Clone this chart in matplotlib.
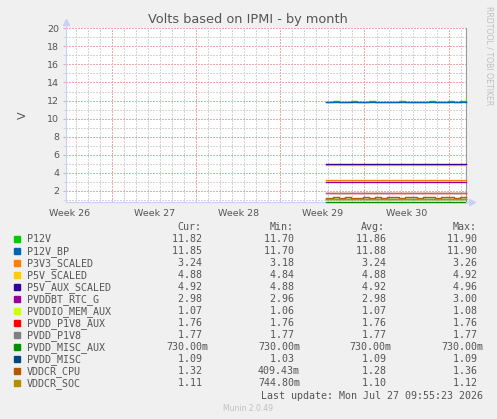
import numpy as np
import matplotlib
matplotlib.use("Agg")
import matplotlib.pyplot as plt

# ---- data -------------------------------------------------------------
names = ['P12V', 'P12V_BP', 'P3V3_SCALED', 'P5V_SCALED', 'P5V_AUX_SCALED',
         'PVDDBT_RTC_G', 'PVDDIO_MEM_AUX', 'PVDD_P1V8_AUX', 'PVDD_P1V8',
         'PVDD_MISC_AUX', 'PVDD_MISC', 'VDDCR_CPU', 'VDDCR_SOC']
colors = ['#00CC00', '#0066B3', '#FF8000', '#FFCC00', '#330099',
          '#990099', '#CCFF00', '#FF0000', '#808080',
          '#008F00', '#00487D', '#B35A00', '#B38F00']
cur = ['11.82 ', '11.85 ', '3.24 ', '4.88 ', '4.92 ', '2.98 ', '1.07 ',
       '1.76 ', '1.77 ', '730.00m', '1.09 ', '1.32 ', '1.11 ']
mins = ['11.70 ', '11.70 ', '3.18 ', '4.84 ', '4.88 ', '2.96 ', '1.06 ',
        '1.76 ', '1.77 ', '730.00m', '1.03 ', '409.43m', '744.80m']
avgs = ['11.86 ', '11.88 ', '3.24 ', '4.88 ', '4.92 ', '2.98 ', '1.07 ',
        '1.76 ', '1.77 ', '730.00m', '1.09 ', '1.28 ', '1.10 ']
maxs = ['11.90 ', '11.90 ', '3.26 ', '4.92 ', '4.96 ', '3.00 ', '1.08 ',
        '1.76 ', '1.77 ', '730.00m', '1.09 ', '1.36 ', '1.12 ']

week_labels = ['Week 26', 'Week 27', 'Week 28', 'Week 29', 'Week 30']

# samples (days on the graph axis), data only exists for the last ~11.6 days
t_start, t_end = 21.67, 33.25
n = 24
p12v = [11.86, 11.92, 11.86, 11.86, 11.92, 11.86, 11.86, 11.92, 11.86, 11.86, 11.86, 11.86,
        11.92, 11.86, 11.86, 11.86, 11.86, 11.92, 11.86, 11.86, 11.92, 11.86, 11.92, 11.82]
p12v_bp = [11.86, 11.88, 11.86, 11.86, 11.88, 11.86, 11.86, 11.88, 11.86, 11.86, 11.86, 11.86,
           11.88, 11.86, 11.86, 11.86, 11.86, 11.88, 11.86, 11.86, 11.88, 11.86, 11.88, 11.85]
p3v3 = [3.24] * n
p5v = [4.88] * n
p5v_aux = [4.92] * n
rtc = [2.98] * n
mem_aux = [1.07] * n
p1v8_aux = [1.76] * n
p1v8 = [1.77] * n
misc_aux = [0.73] * n
misc = [1.09, 1.09, 1.08, 1.09, 1.09, 1.09, 1.09, 1.08, 1.09, 1.09, 1.09, 1.09,
        1.09, 1.09, 1.09, 1.08, 1.09, 1.09, 1.09, 1.09, 1.09, 1.09, 1.09, 1.09]
cpu = [1.24, 1.30, 1.20, 1.32, 1.26, 1.18, 1.30, 1.22, 1.28, 1.16, 1.30, 1.34,
       1.24, 1.30, 1.32, 1.22, 1.34, 1.30, 1.24, 1.34, 1.30, 1.26, 1.34, 1.32]
soc = [1.10, 1.11, 1.10, 1.12, 1.10, 1.10, 1.11, 1.10, 1.10, 1.11, 1.10, 1.11,
       1.10, 1.10, 1.12, 1.10, 1.11, 1.10, 1.10, 1.11, 1.10, 1.11, 1.10, 1.11]
series = [p12v, p12v_bp, p3v3, p5v, p5v_aux, rtc, mem_aux, p1v8_aux, p1v8,
          misc_aux, misc, cpu, soc]

W, H = 497, 419
TXT = '#555555'
AXC = '#c8d0f8'

fig = plt.figure(figsize=(W / 100, H / 100), dpi=100, facecolor='#F0F0F0')
L, R, T, B = 66, 465.7, 28.3, 202.2
ax = fig.add_axes([L / W, 1 - B / H, (R - L) / W, (B - T) / H])
ax.set_facecolor('white')

t = np.linspace(t_start, t_end, n)
for vals, c in zip(series, colors):
    ax.step(t, vals, where='post', color=c, linewidth=1.0, clip_on=False, zorder=3)

ax.set_xlim(0, 33.25)
ax.set_ylim(0.74, 20)

# grid: gray dotted minor, red dotted major (crisp pixels like rrdtool)
dots = (0, (1.4, 1.4))
gkw = dict(linestyle=dots, linewidth=0.72, antialiased=False)
for d in np.arange(0.83, 33.25, 1):
    ax.axvline(d, color='#d4d4d4', zorder=0, **gkw)
for d in np.arange(3.83, 33.25, 7):
    ax.axvline(d, color='#eeaaaa', zorder=1, **gkw)
for v in range(1, 21, 2):
    ax.axhline(v, color='#d4d4d4', zorder=0, **gkw)
for v in range(2, 21, 2):
    ax.axhline(v, color='#eeaaaa', zorder=1, **gkw)

ax.set_yticks(range(2, 21, 2))
ax.set_yticks(range(1, 21, 2), minor=True)
ax.set_xticks(np.arange(0.33, 33, 7))
ax.set_xticklabels(week_labels)
ax.tick_params(axis='x', length=0, labelsize=6.8, colors=TXT, pad=5)
ax.tick_params(axis='y', which='major', length=2, color='#eeaaaa', labelsize=6.8,
               labelcolor=TXT, pad=3)
ax.tick_params(axis='y', which='minor', length=2, color='#d4d4d4')
ax.set_ylabel('V', color=TXT, fontsize=8, labelpad=14)

ax.spines['top'].set_visible(False)
ax.spines['right'].set_color('#999999')
ax.spines['left'].set_color(AXC)
ax.spines['bottom'].set_color(AXC)
ax.spines['left'].set_linewidth(0.8)
ax.spines['bottom'].set_linewidth(0.8)

# axis arrows
fig.add_artist(plt.Line2D([L / W, L / W], [1 - T / H, 1 - 22 / H], color=AXC, lw=0.8))
fig.add_artist(plt.Line2D([R / W, 471 / W], [1 - B / H, 1 - B / H], color=AXC, lw=0.8))
fig.add_artist(plt.Line2D([L / W], [1 - 22 / H], marker='^', markersize=4, color=AXC))
fig.add_artist(plt.Line2D([472 / W], [1 - B / H], marker='>', markersize=4, color=AXC))

fig.text(248 / W, 1 - 19 / H, 'Volts based on IPMI - by month', ha='center', va='center',
         fontsize=9.3, color=TXT)
fig.text(489 / W, 1 - 56 / H, 'RRDTOOL / TOBI OETIKER', rotation=270, ha='center', va='center',
         fontsize=5.6, color='#c0c0c0')

# legend table
mono = 'DejaVu Sans Mono'
fs = 7.2
y0 = 227.3
for x, lab in zip([201.7, 293.3, 385, 476.7], ['Cur:', 'Min:', 'Avg:', 'Max:']):
    fig.text(x / W, 1 - y0 / H, lab, ha='right', va='center', family=mono, fontsize=fs, color=TXT)
for i, nm in enumerate(names):
    y = 239.3 + 12.0 * i
    fig.add_artist(plt.Rectangle((14 / W, 1 - (y + 3) / H), 6 / W, 6 / H,
                                 color=colors[i], transform=fig.transFigure))
    fig.text(26.7 / W, 1 - y / H, nm, ha='left', va='center', family=mono, fontsize=fs, color=TXT)
    for x, col in zip([208, 300, 391.7, 483.4], [cur, mins, avgs, maxs]):
        fig.text(x / W, 1 - y / H, col[i], ha='right', va='center', family=mono,
                 fontsize=fs, color=TXT)

fig.text(483.4 / W, 1 - 396 / H, 'Last update: Mon Jul 27 09:55:23 2026', ha='right', va='center',
         family=mono, fontsize=fs, color=TXT)
fig.text(248 / W, 1 - 408 / H, 'Munin 2.0.49', ha='center', va='center',
         fontsize=5.5, color='#c0c0c0')

fig.savefig('out.png', dpi=100, facecolor=fig.get_facecolor())
